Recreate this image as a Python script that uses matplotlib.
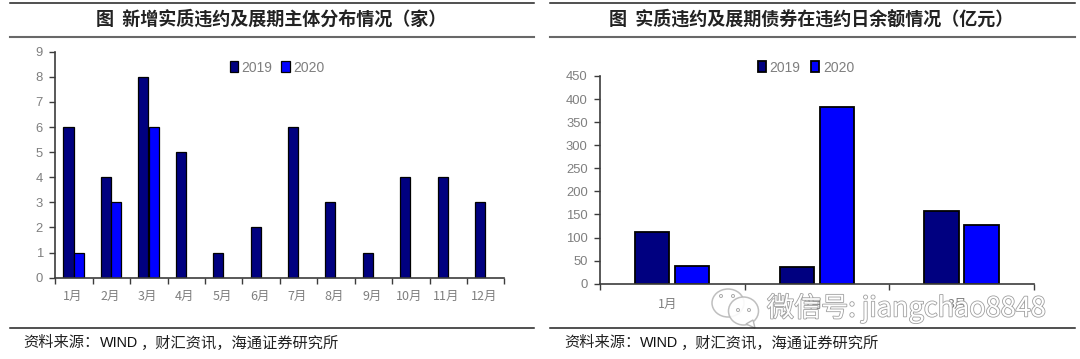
import numpy as np
import matplotlib
matplotlib.use('Agg')
import matplotlib.pyplot as plt
import matplotlib.patheffects as pe
from matplotlib.patches import Ellipse, Polygon

W, H = 1080, 359

months_left = ['1月', '2月', '3月', '4月', '5月', '6月', '7月', '8月', '9月', '10月', '11月', '12月']
left_2019 = [6, 4, 8, 5, 1, 2, 6, 3, 1, 4, 4, 3]
left_2020 = [1, 3, 6, 0, 0, 0, 0, 0, 0, 0, 0, 0]
left_yticks = [0, 1, 2, 3, 4, 5, 6, 7, 8, 9]

months_right = ['1月', '2月', '3月']
right_2019 = [113, 36, 157]
right_2020 = [38, 382, 128]
right_yticks = [0, 50, 100, 150, 200, 250, 300, 350, 400, 450]

series_names = ['2019', '2020']
title_left = '图  新增实质违约及展期主体分布情况（家）'
title_right = '图  实质违约及展期债券在违约日余额情况（亿元）'
source_a = '资料来源：'
source_b = 'WIND'
source_c = '，财汇资讯，海通证券研究所'
watermark = '微信号: jiangchao8848'

NAVY = '#000080'
BLUE = '#0000FF'
GREY = '#7f7f7f'
AXIS = '#3c3c3c'
CJK = ['Noto Sans CJK SC', 'DejaVu Sans']
plt.rcParams['font.family'] = ['Liberation Sans', 'Noto Sans CJK SC', 'DejaVu Sans']


def make_axes(fig, x0, x1, y_top, y_bottom):
    return fig.add_axes([x0 / W, 1 - y_bottom / H, (x1 - x0) / W, (y_bottom - y_top) / H])


def style_axes(ax, cats, yticks, pad, shift):
    n = len(cats)
    ax.set_xlim(-0.5, n - 0.5)
    ax.set_ylim(yticks[0], yticks[-1])
    ax.set_yticks(yticks)
    ax.set_xticks(np.arange(n + 1) - 0.5)
    ax.set_xticklabels([])
    ax.set_xticks(np.arange(n) + shift, minor=True)
    ax.set_xticklabels(cats, minor=True, fontsize=9, color=GREY, family=CJK)
    ax.tick_params(axis='x', which='major', length=4, width=1, color=AXIS)
    ax.tick_params(axis='x', which='minor', length=0, pad=pad)
    ax.tick_params(axis='y', length=4, width=1, color=AXIS, labelsize=9.4, labelcolor=GREY, pad=5)
    for s in ['top', 'right']:
        ax.spines[s].set_visible(False)
    for s in ['left', 'bottom']:
        ax.spines[s].set_color(AXIS)
        ax.spines[s].set_linewidth(1.2)


def frame(fig, x0, x1, title, title_x):
    for y, c, lw in [(2.5, '#202020', 1.1), (37, '#686868', 1.5), (328, '#202020', 1.1)]:
        fig.add_artist(plt.Line2D([x0 / W, x1 / W], [1 - y / H, 1 - y / H], color=c, lw=lw))
    fig.text(title_x / W, 1 - 19.5 / H, title, ha='center', va='center', fontsize=13,
             fontweight='bold', color='#222222', family=CJK)
    sx = x0 + 14
    fig.text(sx / W, 1 - 343 / H, source_a, ha='left', va='center', fontsize=11, color='#222222', family=CJK)
    fig.text((sx + 76) / W, 1 - 343 / H, source_b, ha='left', va='center', fontsize=10.4, color='#111111')
    fig.text((sx + 117) / W, 1 - 343 / H, source_c, ha='left', va='center', fontsize=11, color='#222222', family=CJK)


fig = plt.figure(figsize=(W / 100, H / 100), dpi=100, facecolor='white')

# left panel
ax1 = make_axes(fig, 55.4, 504.4, 51.7, 277.7)
x = np.arange(len(months_left))
ax1.bar(x - 0.15, left_2019, width=0.27, color=NAVY, edgecolor='black', linewidth=0.9, label=series_names[0])
keep = [i for i, v in enumerate(left_2020) if v > 0]
ax1.bar(x[keep] + 0.125, [left_2020[i] for i in keep], width=0.27, color=BLUE, edgecolor='black',
        linewidth=0.9, label=series_names[1])
style_axes(ax1, months_left, left_yticks, 9, -0.045)
ax1.legend(loc='center', bbox_to_anchor=(277 / W, 1 - 67.5 / H), bbox_transform=fig.transFigure, ncol=2,
           frameon=False, fontsize=10, labelcolor=GREY, handlelength=0.6, handleheight=0.9,
           handletextpad=0.25, columnspacing=0.65, borderpad=0)

# right panel
ax2 = make_axes(fig, 600.2, 1034, 76, 283.7)
x = np.arange(len(months_right))
ax2.bar(x - 0.14, right_2019, width=0.237, color=NAVY, edgecolor='black', linewidth=1.3, label=series_names[0])
ax2.bar(x + 0.136, right_2020, width=0.237, color=BLUE, edgecolor='black', linewidth=1.3, label=series_names[1])
style_axes(ax2, months_right, right_yticks, 10, -0.03)
ax2.legend(loc='center', bbox_to_anchor=(806 / W, 1 - 67.5 / H), bbox_transform=fig.transFigure, ncol=2,
           frameon=False, fontsize=10, labelcolor=GREY, handlelength=0.6, handleheight=0.9,
           handletextpad=0.25, columnspacing=0.75, borderpad=0)

frame(fig, 9.5, 534, title_left, 271)
frame(fig, 550, 1075, title_right, 811)

# watermark over the right panel
fig.text(767 / W, 1 - 308 / H, watermark, ha='left', va='center', fontsize=19.5, color='white', family=CJK,
         path_effects=[pe.withStroke(linewidth=1.2, foreground='#a0a0a0')], zorder=10)
for cx, cy, rx, ry in [(728, 303, 16, 14), (743.5, 311, 15, 14)]:
    fig.add_artist(Ellipse((cx / W, 1 - cy / H), 2 * rx / W, 2 * ry / H, transform=fig.transFigure,
                           facecolor='white', edgecolor='#b8b8b8', lw=1.1, alpha=0.9))
fig.add_artist(Polygon([(746 / W, 1 - 324 / H), (755 / W, 1 - 328 / H), (753 / W, 1 - 320 / H)],
                       transform=fig.transFigure, facecolor='white', edgecolor='#b8b8b8', lw=1))
for cx, cy in [(721, 296), (733, 296), (738, 310), (749, 310)]:
    fig.add_artist(Ellipse((cx / W, 1 - cy / H), 3 / W, 3 / H, transform=fig.transFigure,
                           facecolor='white', edgecolor='#a8a8a8', lw=0.7))

fig.savefig('out.png', dpi=100)
